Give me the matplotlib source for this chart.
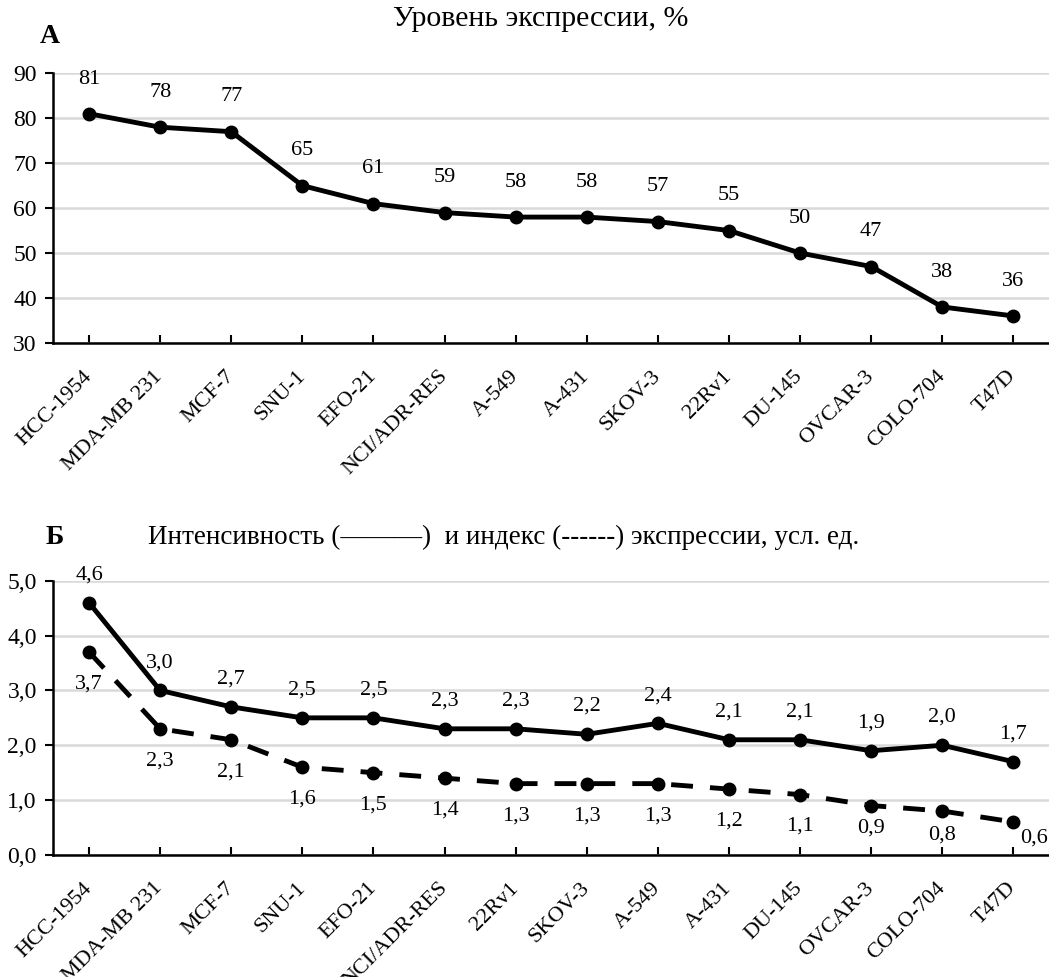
import matplotlib.pyplot as plt
import numpy as np

plt.rcParams["font.family"] = ["Liberation Serif", "DejaVu Serif"]

# Panel A
lines_a = ["HCC-1954", "MDA-MB 231", "MCF-7", "SNU-1", "EFO-21", "NCI/ADR-RES",
           "A-549", "A-431", "SKOV-3", "22Rv1", "DU-145", "OVCAR-3", "COLO-704", "T47D"]
level_a = [81, 78, 77, 65, 61, 59, 58, 58, 57, 55, 50, 47, 38, 36]

# Panel B
lines_b = ["HCC-1954", "MDA-MB 231", "MCF-7", "SNU-1", "EFO-21", "NCI/ADR-RES",
           "22Rv1", "SKOV-3", "A-549", "A-431", "DU-145", "OVCAR-3", "COLO-704", "T47D"]
intensity_b = [4.6, 3.0, 2.7, 2.5, 2.5, 2.3, 2.3, 2.2, 2.4, 2.1, 2.1, 1.9, 2.0, 1.7]
index_b = [3.7, 2.3, 2.1, 1.6, 1.5, 1.4, 1.3, 1.3, 1.3, 1.2, 1.1, 0.9, 0.8, 0.6]

FS = 16
GRID = "#d9d9d9"


def fmt(v):
    return f"{v:.1f}".replace(".", ",")


def style_axes(ax, labels):
    x = np.arange(len(labels))
    ax.set_xlim(-0.5, len(labels) - 0.5)
    ax.set_xticks(x)
    ax.set_xticklabels(labels, rotation=45, ha="right", va="center",
                       rotation_mode="anchor", fontsize=16)
    ax.tick_params(axis="x", direction="in", length=6, width=1.5, pad=22)
    ax.tick_params(axis="y", direction="out", length=6, width=1.5, pad=6, labelsize=17)
    ax.yaxis.grid(True, color=GRID, linewidth=1.8)
    ax.set_axisbelow(True)
    for s in ["top", "right"]:
        ax.spines[s].set_visible(False)
    for s in ["left", "bottom"]:
        ax.spines[s].set_linewidth(1.8)
    return x


fig = plt.figure(figsize=(10.49, 9.77), dpi=100)

# --- A ---
ax1 = fig.add_axes([0.051, 0.649, 0.949, 0.276])
x = style_axes(ax1, lines_a)
ax1.plot(x, level_a, color="black", linewidth=3.5, marker="o", markersize=9)
ax1.set_ylim(30, 90)
ax1.set_yticks(np.arange(30, 91, 10))
for xi, v in zip(x, level_a):
    ax1.annotate(str(v), (xi, v), textcoords="offset points", xytext=(0, 25),
                 ha="center", va="center", fontsize=FS)
fig.text(0.038, 0.963, "А", fontsize=20, fontweight="bold", ha="left", va="center")
fig.text(0.515, 0.981, "Уровень экспрессии, %", fontsize=21.5, ha="center", va="center")

# --- Б ---
ax2 = fig.add_axes([0.051, 0.125, 0.949, 0.2805])
x = style_axes(ax2, lines_b)
ax2.plot(x, intensity_b, color="black", linewidth=3.5, marker="o", markersize=9)
ax2.plot(x, index_b, color="black", linewidth=3.5, marker="o", markersize=9,
         linestyle=(0, (4.5, 3.5)))
ax2.set_ylim(0, 5)
ax2.set_yticks(np.arange(0, 5.1, 1))
ax2.set_yticklabels([fmt(v) for v in np.arange(0, 5.1, 1)])

for xi, v in zip(x, intensity_b):
    ax2.annotate(fmt(v), (xi, v), textcoords="offset points", xytext=(0, 20),
                 ha="center", va="center", fontsize=FS)

# labels near the axis sit closer to their points
low_offsets = {11: (0, -16), 12: (0, -17), 13: (15, -11.5)}
for i, (xi, v) in enumerate(zip(x, index_b)):
    off = low_offsets.get(i, (0, -23))
    ax2.annotate(fmt(v), (xi, v), textcoords="offset points", xytext=off,
                 ha="center", va="center", fontsize=FS)

fig.text(0.043, 0.450, "Б", fontsize=20, fontweight="bold", ha="left", va="center")
fig.text(0.141, 0.450, "Интенсивность (———)  и индекс (------) экспрессии, усл. ед.",
         fontsize=19.5, ha="left", va="center")

fig.savefig("out.png", dpi=100)
